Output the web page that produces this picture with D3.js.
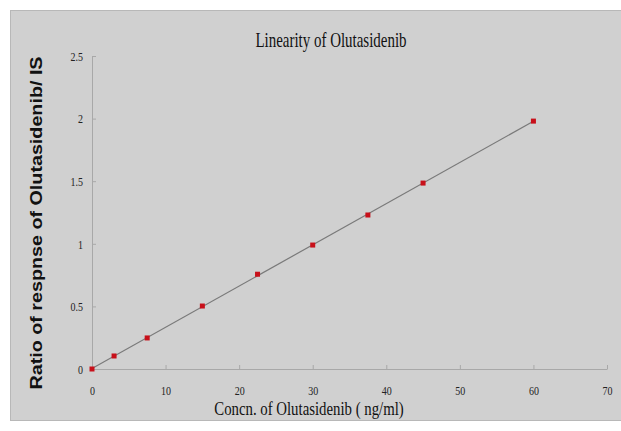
<!DOCTYPE html>
<html><head><meta charset="utf-8">
<script src="https://cdn.jsdelivr.net/npm/d3@7"></script>
<style>body{margin:0;background:#fff}</style>
</head><body>
<svg id="c" width="621" height="431"></svg>
<script>
const concentrations = [0, 3, 7.5, 15, 22.5, 30, 37.5, 45, 60];
const ratios = [0, 0.104, 0.248, 0.503, 0.757, 0.99, 1.23, 1.485, 1.98];
const xTicks = [0, 10, 20, 30, 40, 50, 60, 70];
const yTicks = [0, 0.5, 1, 1.5, 2, 2.5];
const title = "Linearity of  Olutasidenib";
const xTitle = "Concn. of Olutasidenib ( ng/ml)";
const yTitle = "Ratio of respnse of Olutasidenib/ IS";

const svg = d3.select("#c");
svg.append("rect").attr("x",10.5).attr("y",10.5).attr("width",620).attr("height",410)
  .attr("fill","#d0d0d0").attr("stroke","#b8b8b8");

const x = d3.scaleLinear().domain([0,70]).range([92,607]);
const y = d3.scaleLinear().domain([0,2.5]).range([369,56]);

const gx = svg.append("g").attr("transform","translate(0,369)")
  .call(d3.axisBottom(x).tickValues(xTicks).tickSize(4).tickSizeOuter(0).tickFormat(d3.format("d")));
const gy = svg.append("g").attr("transform","translate(92,0)")
  .call(d3.axisLeft(y).tickValues(yTicks).tickSize(4).tickSizeOuter(0).tickFormat(d=>String(d)));
[gx,gy].forEach(g=>{
  g.select(".domain").attr("stroke","#a8a8a8");
  g.selectAll(".tick line").attr("stroke","#a8a8a8");
  g.selectAll("text").attr("font-family","Liberation Serif").attr("font-size",12.5).attr("fill","#222");
});
gx.selectAll(".tick line").attr("y2",-4);
gx.selectAll(".tick text").attr("y",0).attr("dy",0)
  .attr("transform","translate(0,26) scale(0.8,1)");
gy.selectAll(".tick line").attr("x2",4);
gy.selectAll(".tick text").attr("x",0).attr("dy","0.35em")
  .attr("transform","translate(-9,0) scale(0.8,1)");

// least squares trend line
const mx = d3.mean(concentrations), my = d3.mean(ratios);
const slope = d3.sum(concentrations.map((c,i)=>(c-mx)*(ratios[i]-my)))/d3.sum(concentrations.map(c=>(c-mx)**2));
const icpt = my - slope*mx;
const x0 = d3.min(concentrations), x1 = d3.max(concentrations);
svg.append("line").attr("x1",x(x0)).attr("y1",y(icpt+slope*x0)).attr("x2",x(x1)).attr("y2",y(icpt+slope*x1))
  .attr("stroke","#7a7a7a").attr("stroke-width",1.2);

svg.selectAll("rect.pt").data(concentrations).enter().append("rect").attr("class","pt")
  .attr("x",(d)=>x(d)-2.5).attr("y",(d,i)=>y(ratios[i])-2.5).attr("width",5).attr("height",5)
  .attr("fill","#c8101a");

svg.append("text").attr("transform","translate(331,47) scale(0.68,1)").attr("text-anchor","middle")
  .attr("font-family","Liberation Serif").attr("font-size",22).attr("fill","#111").text(title);
svg.append("text").attr("transform","translate(309,415) scale(0.8,1)").attr("text-anchor","middle")
  .attr("font-family","Liberation Serif").attr("font-size",18.5).attr("fill","#111").text(xTitle);
svg.append("text").attr("transform","translate(42,223) rotate(-90) scale(1.16,1)").attr("text-anchor","middle")
  .attr("font-family","Liberation Sans").attr("font-weight","bold").attr("font-size",17).attr("fill","#111").text(yTitle);
</script>
</body></html>
